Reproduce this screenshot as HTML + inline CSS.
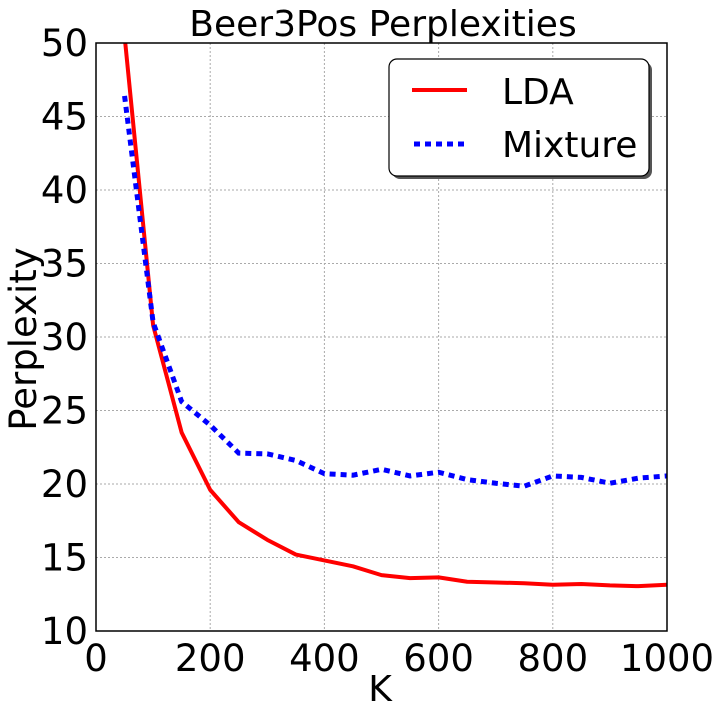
<!DOCTYPE html>
<html><head><meta charset="utf-8"><style>
body{margin:0;background:#fff}
svg text{font-family:"DejaVu Sans","Liberation Sans",sans-serif;fill:#000}
</style></head><body>
<svg id="chart" width="720" height="720" xmlns="http://www.w3.org/2000/svg">
<defs><clipPath id="clip"><rect x="96" y="43" width="571" height="588"/></clipPath></defs>
<text x="383" y="36" font-size="36" text-anchor="middle">Beer3Pos Perplexities</text>
<g id="grid"></g>
<g id="ticks"></g>
<g id="series" clip-path="url(#clip)"></g>
<rect x="96" y="43" width="571" height="588" fill="none" stroke="#000" stroke-width="1.5"/>
<text x="380" y="701" font-size="36" text-anchor="middle">K</text>
<text transform="translate(36,339) rotate(-90)" font-size="37" text-anchor="middle">Perplexity</text>
<g>
<rect x="392" y="62" width="260" height="117" rx="8" fill="#555" />
<rect x="389" y="59" width="260" height="117" rx="8" fill="#fff" stroke="#000" stroke-width="1.2"/>
<line x1="412" y1="90" x2="467" y2="90" stroke="#f00" stroke-width="4"/>
<text x="502" y="104" font-size="36">LDA</text>
<line x1="414" y1="144" x2="467" y2="144" stroke="#00f" stroke-width="5" stroke-dasharray="6,5"/>
<text x="502" y="157" font-size="36">Mixture</text>
</g>
</svg>
<script>
const ks=[50,100,150,200,250,300,350,400,450,500,550,600,650,700,750,800,850,900,950,1000];
const ldaValues=[50.5,30.8,23.5,19.6,17.4,16.2,15.2,14.8,14.4,13.8,13.6,13.65,13.35,13.3,13.25,13.15,13.2,13.1,13.05,13.15];
const mixtureValues=[46.4,31.0,25.6,24.0,22.1,22.05,21.6,20.7,20.6,21.0,20.55,20.8,20.3,20.05,19.85,20.55,20.45,20.05,20.4,20.55];
const xTicks=[0,200,400,600,800,1000];
const yTicks=[10,15,20,25,30,35,40,45,50];
const NS='http://www.w3.org/2000/svg';
const X=v=>96+v/1000*571, Y=v=>631-(v-10)/40*588;
const grid=document.getElementById('grid'),ticks=document.getElementById('ticks'),series=document.getElementById('series');
function mk(t,a,p){const e=document.createElementNS(NS,t);for(const k in a)e.setAttribute(k,a[k]);p.appendChild(e);return e;}
xTicks.forEach(v=>{
 const l=mk('line',{x1:X(v),x2:X(v),y1:43,y2:631,stroke:'#aaa','stroke-dasharray':'2,2','stroke-width':1},grid);
 
 
 const t=mk('text',{x:X(v),y:671,'font-size':37,'text-anchor':'middle'},ticks);t.textContent=v;
 
 
});
yTicks.forEach(v=>{
 const l=mk('line',{x1:96,x2:667,y1:Y(v),y2:Y(v),stroke:'#aaa','stroke-dasharray':'2,2','stroke-width':1},grid);
 
 
 const t=mk('text',{x:88,y:Y(v)+13,'font-size':37,'text-anchor':'end'},ticks);t.textContent=v;
 
 
});
function line(vals,attrs,name){
 const p=mk('polyline',Object.assign({points:ks.map((k,i)=>X(k)+','+Y(vals[i])).join(' '),fill:'none'},attrs),series);
 
 
}
line(ldaValues,{stroke:'#f00','stroke-width':4,'stroke-linejoin':'round'},'lda-line');
line(mixtureValues,{stroke:'#00f','stroke-width':5,'stroke-dasharray':'6,5'},'mixture-line');
</script>
</body></html>
